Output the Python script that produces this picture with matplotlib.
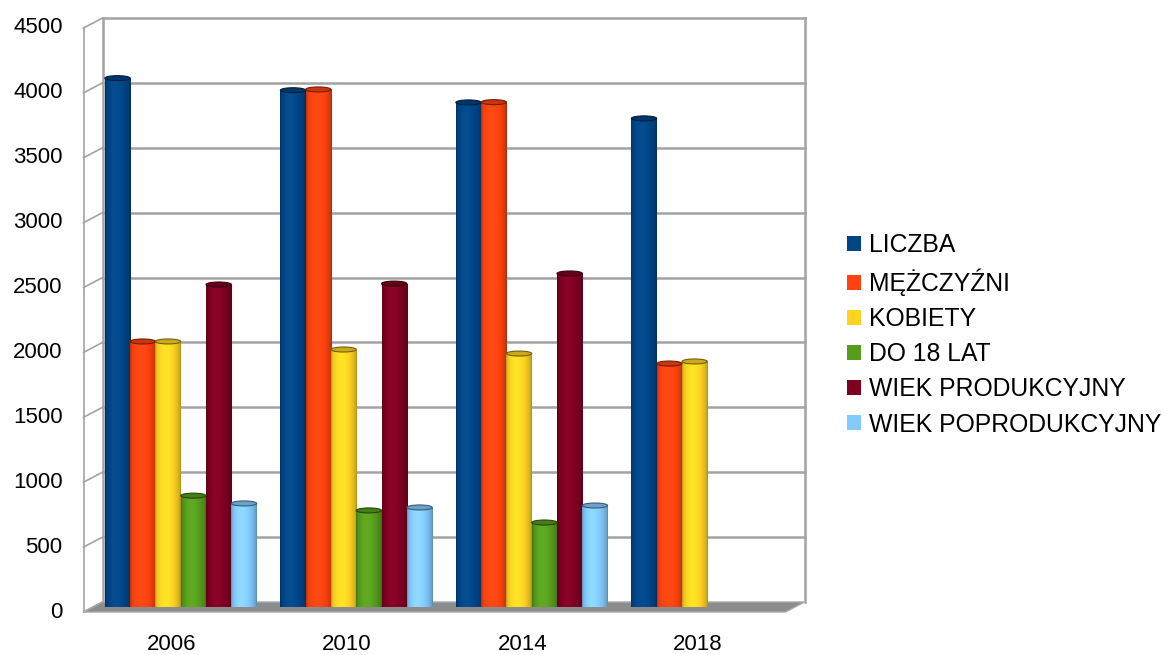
import numpy as np
import matplotlib
matplotlib.use('Agg')
import matplotlib.pyplot as plt
from matplotlib.patches import Patch, Polygon, Ellipse
from matplotlib.colors import to_rgb

plt.rcParams['font.family'] = ['Liberation Sans', 'DejaVu Sans']

# ---- data ----
years = ['2006', '2010', '2014', '2018']
series = ['LICZBA', 'MĘŻCZYŹNI', 'KOBIETY', 'DO 18 LAT',
          'WIEK PRODUKCYJNY', 'WIEK POPRODUKCYJNY']
liczba = [4075, 3982, 3888, 3765]
mezczyzni = [2046, 3988, 3890, 1876]
kobiety = [2046, 1984, 1953, 1892]
do_18_lat = [858, 744, 651, np.nan]
wiek_produkcyjny = [2485, 2492, 2570, np.nan]
wiek_poprodukcyjny = [798, 767, 782, np.nan]
values = [liczba, mezczyzni, kobiety, do_18_lat, wiek_produkcyjny, wiek_poprodukcyjny]
colors = ['#004586', '#ff420e', '#ffd320', '#579d1c', '#7e0021', '#83caff']
yticks = [0, 500, 1000, 1500, 2000, 2500, 3000, 3500, 4000, 4500]

# ---- layout ----
W, H = 1163, 655
fig = plt.figure(figsize=(W / 100, H / 100), dpi=100)
ax_l, ax_r, ax_b, ax_t = 93, 795, 607, 23
ax = fig.add_axes([ax_l / W, 1 - ax_b / H, (ax_r - ax_l) / W, (ax_b - ax_t) / H])
ax.axis('off')
px_x = (ax_r - ax_l) / len(years)
px_y = (ax_b - ax_t) / 4500
dx = 9.5 / px_x
dy = 5 / px_y
x0, x1 = -0.5, len(years) - 0.5
ymax = yticks[-1]

grid_c = '#a3a3a3'
# back wall
ax.plot([x0 + dx, x0 + dx], [dy, ymax + dy], color=grid_c, lw=1.8, zorder=1, clip_on=False)
ax.plot([x1 + dx, x1 + dx], [dy, ymax + dy], color=grid_c, lw=1.8, zorder=1, clip_on=False)
for v in yticks[1:]:
    ax.plot([x0 + dx, x1 + dx], [v + dy, v + dy], color=grid_c, lw=1.8, zorder=1, clip_on=False)
# left wall
ax.plot([x0 - dx, x0 - dx], [-dy, ymax - dy], color=grid_c, lw=1.2, zorder=1, clip_on=False)
for v in yticks:
    ax.plot([x0 - dx, x0 + dx], [v - dy, v + dy], color=grid_c, lw=1.2, zorder=1, clip_on=False)
# floor
floor = Polygon([(x0 - dx, -dy), (x1 - dx, -dy), (x1 + dx, dy), (x0 + dx, dy)],
                closed=True, facecolor='#8c8c8c', edgecolor='#a8a8a8', lw=1.0,
                zorder=1.5, clip_on=False)
ax.add_patch(floor)

# bars
x = np.arange(len(years))
bw = 25.3 / px_x
t = np.linspace(0, 1, 80)
shade = 0.66 + 0.40 * np.sin(np.pi * t ** 0.76) ** 0.5
for k, (vals, col) in enumerate(zip(values, colors)):
    rgb = np.array(to_rgb(col))
    xs = x + (k - 2.5) * bw
    hv = np.nan_to_num(np.array(vals, dtype=float), nan=0.0)
    bars = ax.bar(xs, hv, width=bw, color=col, edgecolor='none', zorder=2)
    img = np.clip(rgb[None, None, :] * shade[None, :, None]
                  + (np.clip(shade - 1.0, 0, None))[None, :, None] * 0.25, 0, 1)
    for b, h in zip(bars, hv):
        if h <= 0:
            continue
        bx = b.get_x()
        im = ax.imshow(img, extent=(bx, bx + bw, 0, h), aspect='auto',
                       interpolation='bilinear', zorder=3)
        im.set_clip_path(b)
        cap = Ellipse((bx + bw / 2, h), bw, 5 / px_y,
                      facecolor=np.clip(rgb * 0.8, 0, 1),
                      edgecolor=np.clip(rgb * 0.45, 0, 1), lw=0.8, zorder=4)
        ax.add_patch(cap)

ax.set_xlim(x0, x1)
ax.set_ylim(0, ymax)

# tick labels
for v in yticks:
    ax.text(x0 - dx - 21 / px_x, v - dy, str(v), ha='right', va='center',
            fontsize=16, color='black')
for i, yr in enumerate(years):
    ax.text(i - dx, -dy - 33 / px_y, yr, ha='center', va='center',
            fontsize=16, color='black')

# legend
handles = [Patch(facecolor=c, edgecolor='none') for c in colors]
fig.legend(handles, series, loc='center left', bbox_to_anchor=(847 / W, 1 - 335 / H),
           frameon=False, fontsize=17.8, handlelength=0.57, handleheight=0.57,
           handletextpad=0.33, labelspacing=0.45, borderpad=0, borderaxespad=0)

fig.savefig('out.png', dpi=100, facecolor='white')
